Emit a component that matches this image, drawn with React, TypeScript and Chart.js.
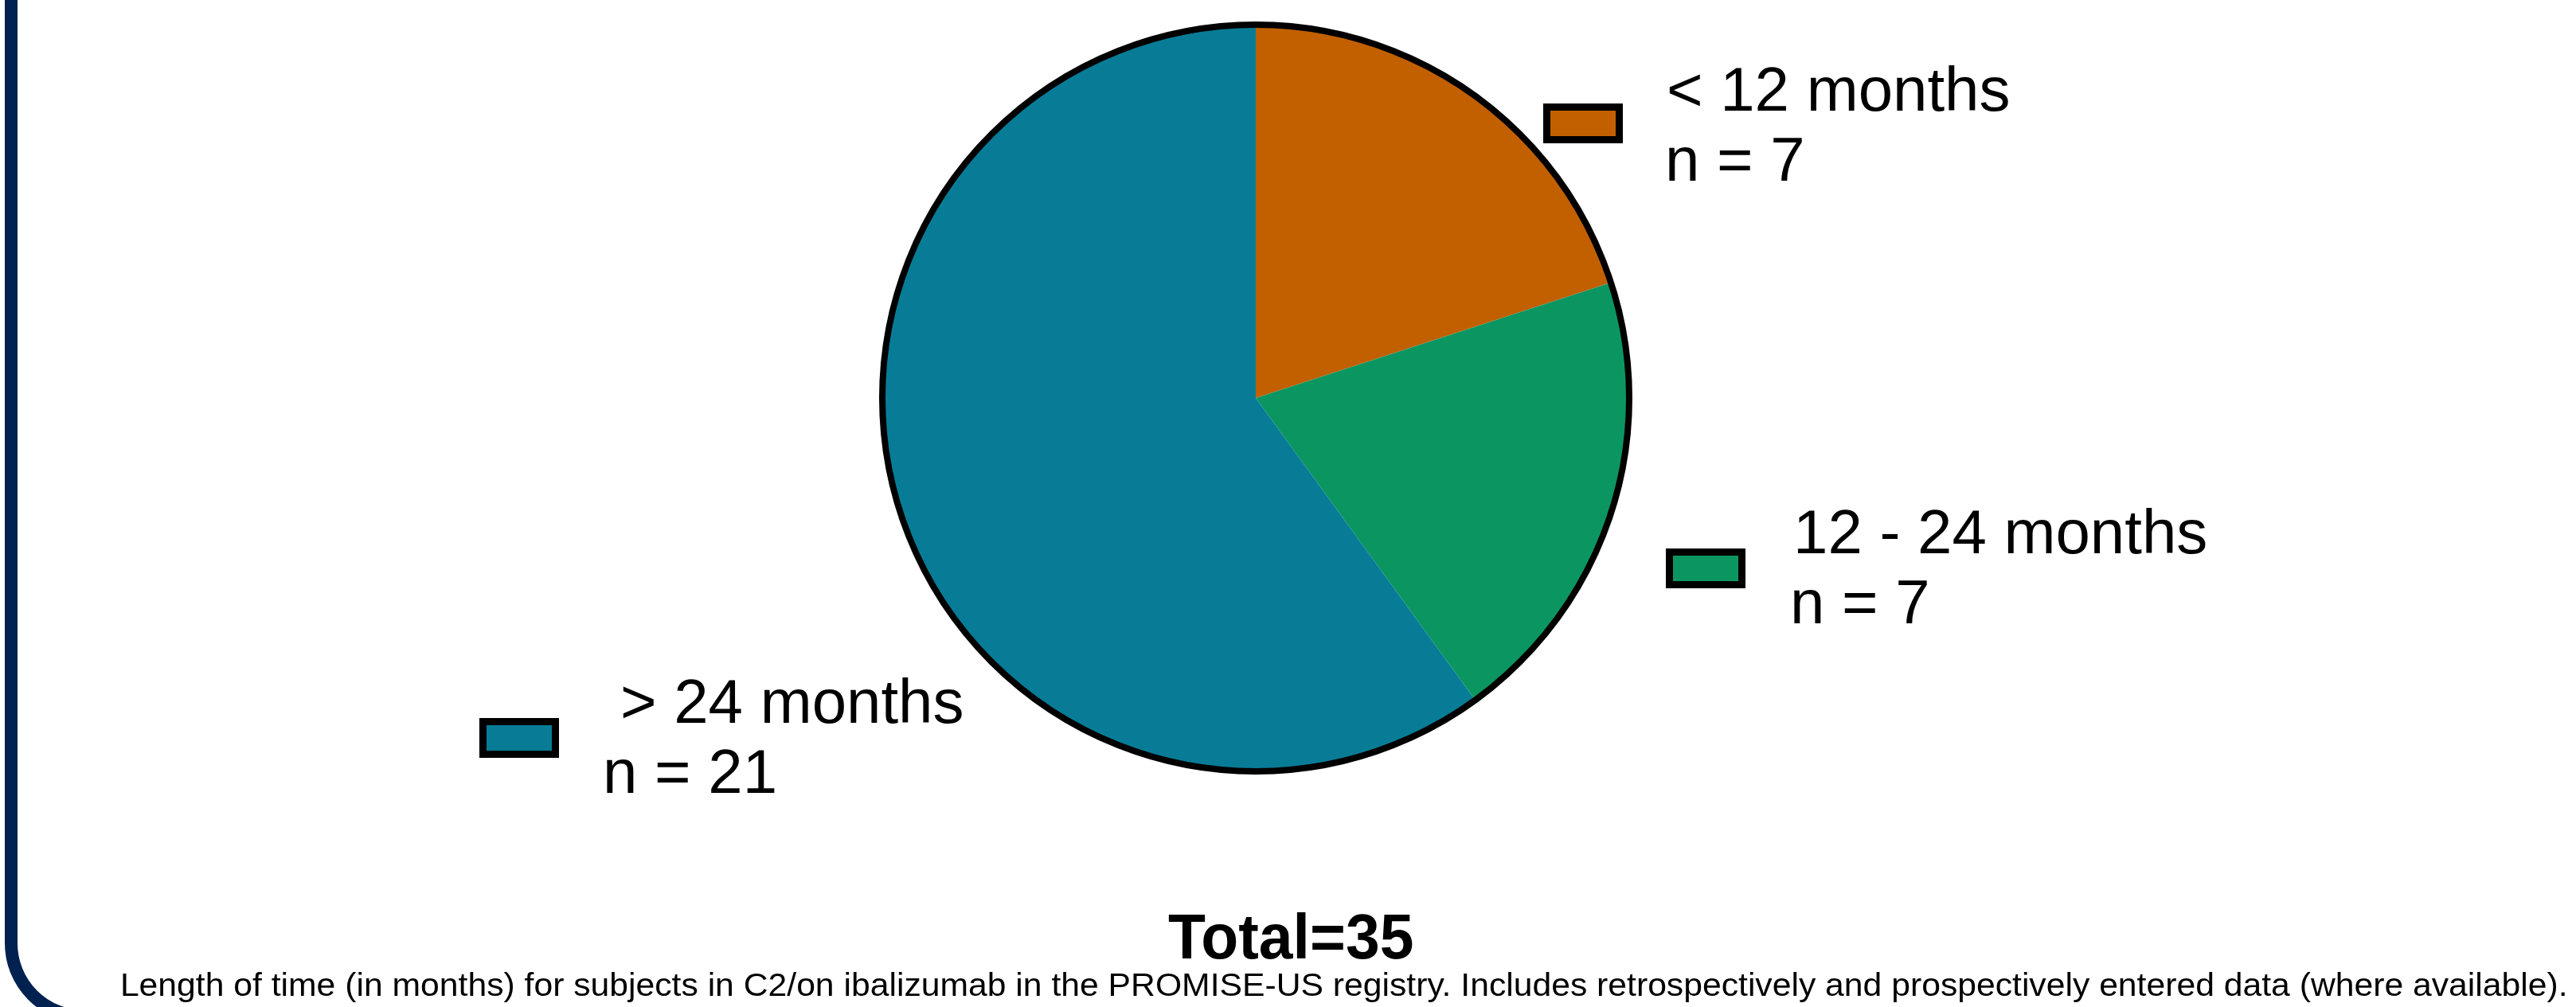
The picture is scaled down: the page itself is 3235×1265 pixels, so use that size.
import React, { useEffect, useRef } from "react";
import { Chart, registerables } from "chart.js";

Chart.register(...registerables);

// ---- data ----
const categories = ["< 12 months", "12 - 24 months", " > 24 months"];
const counts = [7, 7, 21];
const countLabels = ["n = 7", "n = 7", "n = 21"];
const sliceColors = ["#C26000", "#0B9661", "#087C97"];
const totalLabel = "Total=35";
const captionText =
  "Length of time (in months) for subjects in C2/on ibalizumab in the PROMISE-US registry. Includes retrospectively and prospectively entered data (where available).";

// ---- layout (pixels) ----
const W = 3235;
const H = 1265;
const swatchPos = [
  { x: 1938, y: 130 },
  { x: 2092, y: 689 },
  { x: 602, y: 902 },
];
const labelPos = [
  { x: 2096, y: 139 },
  { x: 2257, y: 695 },
  { x: 782, y: 908 },
];
const countPos = [
  { x: 2096, y: 227 },
  { x: 2253, y: 783 },
  { x: 762, y: 996 },
];
const FONT = '"Liberation Sans", Arial, Helvetica, sans-serif';

function drawInk(
  ctx: CanvasRenderingContext2D,
  text: string,
  inkLeft: number,
  baseline: number,
  font: string,
  inkRight?: number
) {
  ctx.save();
  ctx.font = font;
  ctx.textBaseline = "alphabetic";
  ctx.textAlign = "left";
  const m = ctx.measureText(text);
  const inkW = m.actualBoundingBoxLeft + m.actualBoundingBoxRight;
  let sx = 1;
  if (inkRight !== undefined && inkW > 0) sx = (inkRight - inkLeft) / inkW;
  ctx.translate(inkLeft, baseline);
  ctx.scale(sx, 1);
  ctx.fillStyle = "#000";
  ctx.fillText(text, m.actualBoundingBoxLeft, 0);
  ctx.restore();
}

const decorPlugin = {
  id: "decor",
  afterDatasetsDraw(chart: any) {
    const ctx: CanvasRenderingContext2D = chart.ctx;
    const meta = chart.getDatasetMeta(0);
    const arc = meta.data[0];
    if (arc) {
      ctx.save();
      ctx.beginPath();
      ctx.arc(arc.x, arc.y, arc.outerRadius, 0, Math.PI * 2);
      ctx.lineWidth = 8;
      ctx.strokeStyle = "#000";
      ctx.stroke();
      ctx.restore();
    }
    // legend
    categories.forEach((cat, i) => {
      const s = swatchPos[i];
      ctx.save();
      ctx.fillStyle = sliceColors[i];
      ctx.fillRect(s.x, s.y, 100, 50);
      ctx.lineWidth = 9;
      ctx.strokeStyle = "#000";
      ctx.strokeRect(s.x + 4.5, s.y + 4.5, 91, 41);
      ctx.restore();
      drawInk(ctx, cat, labelPos[i].x, labelPos[i].y, `78px ${FONT}`);
      drawInk(ctx, countLabels[i], countPos[i].x, countPos[i].y, `78px ${FONT}`);
    });
    drawInk(ctx, totalLabel, 1467, 1204, `bold 80px ${FONT}`, 1774);
    drawInk(ctx, captionText, 154, 1251, `41px ${FONT}`, 3221);
  },
};

export default function App() {
  const ref = useRef<HTMLCanvasElement | null>(null);
  useEffect(() => {
    if (!ref.current) return;
    const chart = new Chart(ref.current, {
      type: "pie",
      data: {
        labels: categories,
        datasets: [
          {
            data: counts,
            backgroundColor: sliceColors,
            borderWidth: 0,
            hoverOffset: 0,
            hoverBorderWidth: 0,
          },
        ],
      },
      options: {
        responsive: false,
        animation: false,
        devicePixelRatio: 1,
        events: [],
        layout: { padding: { left: 1108, right: 1189, top: 31, bottom: 296 } },
        plugins: {
          legend: { display: false },
          tooltip: { enabled: false },
          title: { display: false },
        },
      },
      plugins: [decorPlugin],
    });
    return () => chart.destroy();
  }, []);

  return (
    <div
      style={{
        position: "fixed",
        left: 0,
        top: 0,
        width: W,
        height: H,
        overflow: "hidden",
        background: "#fff",
      }}
    >
      <div
        style={{
          position: "absolute",
          left: 6,
          top: -200,
          width: 3400,
          height: 1485,
          border: "16px solid #012150",
          borderRadius: 100,
          boxSizing: "border-box",
        }}
      />
      <canvas
        ref={ref}
        width={W}
        height={H}
        style={{ position: "absolute", left: 0, top: 0, width: W, height: H, display: "block" }}
      />
    </div>
  );
}
